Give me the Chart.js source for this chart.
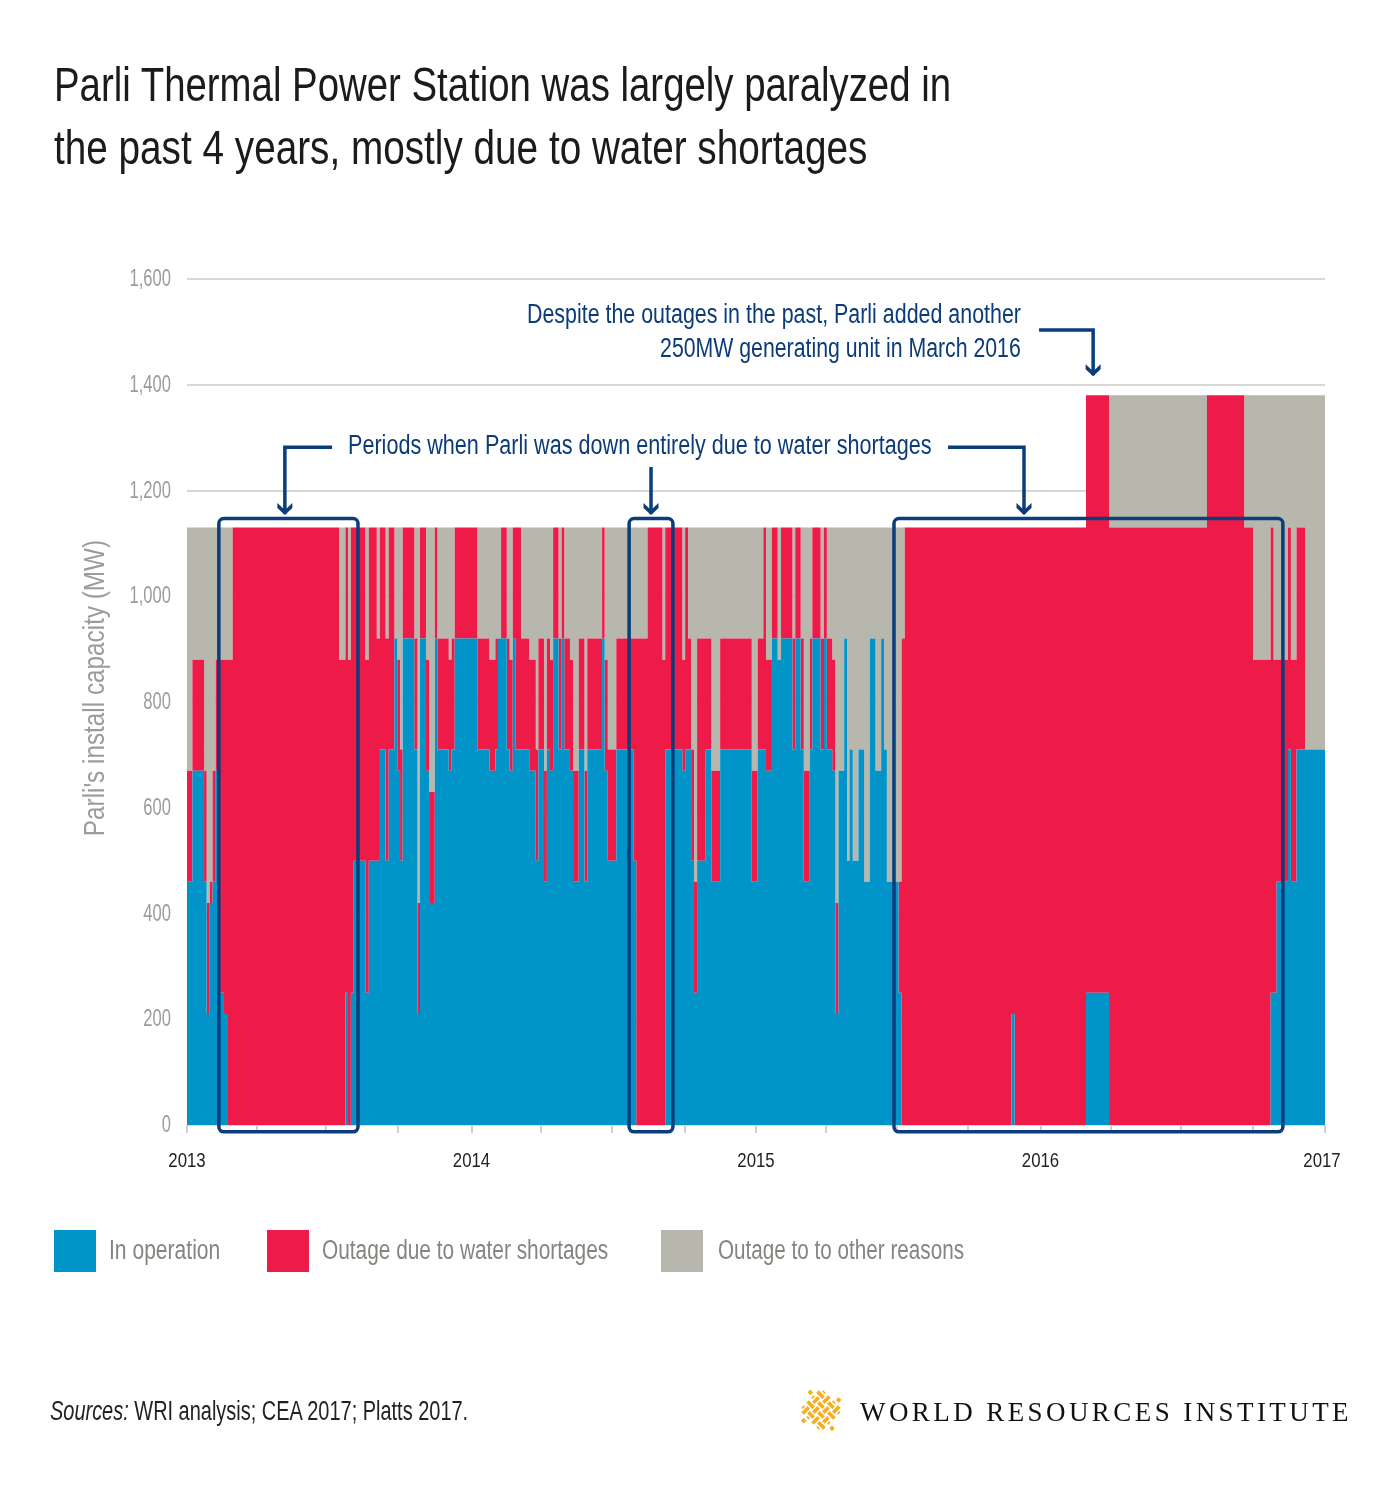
<!DOCTYPE html>
<html>
<head>
<meta charset="utf-8">
<script src="https://cdn.jsdelivr.net/npm/chart.js@4"></script>
<style>
  html, body { margin: 0; background: #fff; }
  #page { position: relative; width: 1400px; height: 1489px; overflow: hidden; font-family: "Liberation Sans", sans-serif; }
  canvas { position: absolute; left: 0; top: 0; }
  .txt { position: absolute; white-space: nowrap; line-height: 1; transform-origin: left center; }
  .title { left: 54px; font-size: 49px; color: #1b1b1b; }
  .note { font-size: 27px; color: #0b3b78; }
  .right { transform-origin: right center; }
  .legend { top: 1237px; font-size: 27px; color: #858580; }
  .swatch { position: absolute; top: 1230px; width: 42px; height: 42px; }
  .wri { left: 860px; top: 1397px; font: 27px "Liberation Serif", serif; letter-spacing: 3.42px; color: #111; }
</style>
</head>
<body>
<div id="page">
  <canvas id="chart" width="1400" height="1489"></canvas>
  <div class="txt title" style="top:60px;transform:scaleX(.783)">Parli Thermal Power Station was largely paralyzed in</div>
  <div class="txt title" style="top:123px;transform:scaleX(.79)">the past 4 years, mostly due to water shortages</div>
  <div class="txt note right" style="right:379px;top:301px;transform:scaleX(.793)">Despite the outages in the past, Parli added another</div>
  <div class="txt note right" style="right:379px;top:335px;transform:scaleX(.788)">250MW generating unit in March 2016</div>
  <div class="txt note" style="left:348px;top:432px;transform:scaleX(.8)">Periods when Parli was down entirely due to water shortages</div>
  <div class="swatch" style="left:54px;background:#0094c9"></div>
  <div class="txt legend" style="left:109px;transform:scaleX(.78)">In operation</div>
  <div class="swatch" style="left:267px;background:#ee1a47"></div>
  <div class="txt legend" style="left:322px;transform:scaleX(.772)">Outage due to water shortages</div>
  <div class="swatch" style="left:661px;background:#b8b7ae"></div>
  <div class="txt legend" style="left:718px;transform:scaleX(.766)">Outage to to other reasons</div>
  <div class="txt" style="left:50px;top:1398px;font-size:27px;color:#222;transform:scaleX(.739)"><i>Sources:</i> WRI analysis; CEA 2017; Platts 2017.</div>
  <svg id="logo" style="position:absolute;left:797px;top:1386px" width="48" height="48" viewBox="-24 -24 48 48"></svg>
  <div class="txt wri">WORLD RESOURCES INSTITUTE</div>
</div>
<script>
// Time is in hundredths of a year since the start of 2013 (0 to 400)
const runStart = [
  0, 1.9, 6, 6.9, 8, 9, 10.1, 11, 13, 14.1, 16.05, 53.5, 55.7, 56.6, 57.6, 58.6, 62.7, 63.9, 66.7, 67.8,
  69.8, 70.9, 72.9, 73.9, 74.9, 75.8, 79.9, 81, 81.9, 84, 85.1, 87.1, 88, 92, 93, 94.1, 102.05, 106.3, 108.4, 109.3,
  110.4, 112.4, 113.4, 114.5, 115.4, 117.4, 120.3, 122.6, 123.5, 125.5, 126.5, 127.6, 128.7, 130.6, 131.7, 132.6, 134.6, 135.7, 137.7, 139.7,
  140.7, 145.9, 146.8, 147.9, 150.9, 156.9, 157.9, 161.9, 167.1, 168.1, 174.1, 175.1, 176.1, 177.2, 178.2, 179.3, 182.3, 184.3, 187.4, 198.5,
  200.6, 202.6, 203.5, 205.6, 207.6, 208.8, 212.8, 213.8, 215.7, 216.8, 218.9, 219.8, 222.7, 223.9, 224.9, 226.8, 227.9, 229, 231, 232,
  232.9, 234, 236, 238, 240, 242, 244, 245, 246, 250.1, 251.2, 252.3, 289.8, 290.9, 316, 324.1, 358.5, 371.6, 374.7, 380.9,
  381.9, 383, 387, 388, 390, 393
];
// MW running: top of the blue band
const operatingMw = [
  460, 670, 460, 210, 420, 460, 670, 250, 210, 0, 0, 0, 250, 0, 250, 500, 250, 500, 500, 710,
  500, 710, 920, 670, 500, 920, 710, 210, 920, 670, 420, 920, 710, 670, 710, 920, 710, 670, 710, 920,
  920, 710, 670, 920, 710, 710, 670, 500, 710, 460, 710, 670, 920, 710, 920, 710, 670, 460, 710, 460,
  710, 920, 670, 500, 710, 500, 0, 0, 0, 710, 670, 710, 710, 500, 250, 500, 710, 460, 710, 460,
  710, 710, 670, 920, 880, 920, 710, 920, 710, 460, 710, 920, 710, 920, 710, 670, 210, 670, 920, 500,
  710, 500, 710, 460, 920, 670, 920, 710, 460, 250, 0, 0, 210, 0, 250, 0, 0, 0, 0, 250,
  250, 460, 710, 460, 710, 710
];
// MW running plus MW lost to water: top of the red band
const waterTopMw = [
  670, 880, 670, 420, 460, 670, 880, 880, 880, 880, 1130, 880, 1130, 880, 1130, 1130, 880, 1130, 920, 1130,
  920, 1130, 920, 880, 710, 1130, 920, 420, 1130, 880, 630, 1130, 920, 880, 920, 1130, 920, 880, 920, 920,
  1130, 920, 880, 1130, 1130, 920, 880, 710, 920, 670, 920, 880, 1130, 920, 1130, 920, 880, 670, 920, 670,
  920, 1130, 880, 710, 920, 920, 920, 1130, 880, 1130, 880, 1130, 920, 710, 460, 920, 920, 670, 920, 670,
  920, 1130, 880, 1130, 880, 1130, 920, 1130, 920, 670, 920, 1130, 920, 1130, 920, 880, 420, 670, 920, 500,
  710, 500, 710, 460, 920, 670, 920, 710, 460, 460, 920, 1130, 1130, 1130, 1380, 1130, 1380, 1130, 880, 1130,
  880, 880, 1130, 880, 1130, 710
];
// Installed MW: top of the grey band
const capacityMw = runStart.map((_, i) => i < 114 ? 1130 : 1380);

const yTicks = [0, 200, 400, 600, 800, 1000, 1200, 1400, 1600];
const xTicks = [0, 24.6, 49, 74.2, 100, 124.5, 149.5, 175, 200, 224.5, 249.5, 274.5, 300, 324.7, 349.3, 374.6, 400];
const yearTicks = { 0: '2013', 100: '2014', 200: '2015', 300: '2016', 400: '2017' };
const endX = 400;

function steps(values) {
  const pts = runStart.map((x, i) => ({ x, y: values[i] }));
  pts.push({ x: endX, y: values[values.length - 1] });
  return pts;
}

const NAVY = '#0a3d7a';
const FONT = '"Liberation Sans", sans-serif';
// Boxes and leader lines, in chart units
const boxes = [[11.2, 60.1], [155.4, 170.8], [248.5, 385.2]];
const boxTop = 1147, boxBottom = -13;
const leaders = [
  [[299.5, 1503.5], [318.5, 1503.5], [318.5, 1418]],
  [[51, 1282], [34.4, 1282], [34.4, 1155.6]],
  [[163.1, 1244.5], [163.1, 1155.6]],
  [[267.5, 1282], [294.2, 1282], [294.2, 1155.6]]
];

// No condensed font is installed, so axis text is squeezed horizontally
function squeezed(ctx, text, x, y, sx, align, angle) {
  ctx.save();
  ctx.translate(x, y);
  if (angle) ctx.rotate(angle);
  ctx.scale(sx, 1);
  ctx.textAlign = align;
  ctx.textBaseline = 'middle';
  ctx.fillText(text, 0, 0);
  ctx.restore();
}

const axisTextPlugin = {
  id: 'axisText',
  afterDraw(chart) {
    const { ctx, scales: { x, y } } = chart;
    ctx.save();
    ctx.fillStyle = '#9c9c98';
    ctx.font = '24px ' + FONT;
    yTicks.forEach(v => squeezed(ctx, v.toLocaleString('en-US'), 171, y.getPixelForValue(v) + 0.5, 0.69, 'right'));
    ctx.font = '30px ' + FONT;
    squeezed(ctx, "Parli's install capacity (MW)", 96, 688, 0.81, 'center', -Math.PI / 2);
    ctx.fillStyle = '#222';
    ctx.font = '21px ' + FONT;
    Object.keys(yearTicks).forEach(v => {
      squeezed(ctx, yearTicks[v], Math.min(x.getPixelForValue(+v), 1322), 1161, 0.8, 'center');
    });
    ctx.restore();
  }
};

const calloutPlugin = {
  id: 'callouts',
  afterDraw(chart) {
    const { ctx, scales: { x, y } } = chart;
    ctx.save();
    ctx.strokeStyle = NAVY;
    ctx.fillStyle = NAVY;
    ctx.lineWidth = 3.5;
    boxes.forEach(([a, b]) => {
      ctx.beginPath();
      ctx.roundRect(x.getPixelForValue(a), y.getPixelForValue(boxTop),
        x.getPixelForValue(b) - x.getPixelForValue(a), y.getPixelForValue(boxBottom) - y.getPixelForValue(boxTop), 5);
      ctx.stroke();
    });
    leaders.forEach(path => {
      ctx.beginPath();
      path.forEach(([a, b], i) => {
        const px = x.getPixelForValue(a), py = y.getPixelForValue(b);
        if (i) ctx.lineTo(px, py); else ctx.moveTo(px, py);
      });
      ctx.stroke();
      // chevron head
      const [a, b] = path[path.length - 1];
      const px = x.getPixelForValue(a), py = y.getPixelForValue(b);
      ctx.beginPath();
      ctx.moveTo(px, py + 1);
      ctx.lineTo(px - 7.5, py - 6);
      ctx.lineTo(px - 7.5, py - 11);
      ctx.lineTo(px, py - 4);
      ctx.lineTo(px + 7.5, py - 11);
      ctx.lineTo(px + 7.5, py - 6);
      ctx.closePath();
      ctx.fill();
    });
    ctx.restore();
  }
};

function band(label, values, color, fill) {
  return {
    label, data: steps(values), stepped: true, fill,
    backgroundColor: color, borderColor: color, borderWidth: 0, pointRadius: 0
  };
}

new Chart(document.getElementById('chart'), {
  type: 'line',
  data: {
    datasets: [
      band('In operation', operatingMw, '#0094c9', 'origin'),
      band('Outage due to water shortages', waterTopMw, '#ee1a47', '-1'),
      band('Outage to to other reasons', capacityMw, '#b8b7ae', '-1')
    ]
  },
  plugins: [axisTextPlugin, calloutPlugin],
  options: {
    responsive: false,
    animation: false,
    layout: { padding: { left: 78, top: 279, right: 75, bottom: 0 } },
    plugins: { legend: { display: false }, tooltip: { enabled: false } },
    scales: {
      x: {
        type: 'linear', min: 0, max: endX,
        afterFit(s) { s.height = 364; },
        afterBuildTicks(s) { s.ticks = xTicks.map(value => ({ value })); },
        border: { display: false },
        grid: { drawOnChartArea: false, color: '#cfcfcb', lineWidth: 2, tickLength: 8 },
        ticks: { display: false, autoSkip: false, maxRotation: 0 }
      },
      y: {
        min: 0, max: 1600,
        afterFit(s) { s.width = 109; },
        afterBuildTicks(s) { s.ticks = yTicks.map(value => ({ value })); },
        border: { display: false },
        grid: { color: '#d8d8d4', lineWidth: 2, drawTicks: false },
        ticks: { display: false }
      }
    }
  }
});

// WRI mark: four strands each way, woven over and under
(function drawLogo() {
  const offs = [-10.5, -3.5, 3.5, 10.5];
  const end = 15.5, gap = 3.3;
  let d = '';
  offs.forEach((o, j) => {
    [0, 1].forEach(dir => {
      let from = -end;
      offs.forEach((c, i) => {
        if ((i + j + dir) % 2) {
          d += dir ? `M${o} ${from}V${c - gap}` : `M${from} ${o}H${c - gap}`;
          from = c + gap;
        }
      });
      d += dir ? `M${o} ${from}V${end}` : `M${from} ${o}H${end}`;
    });
  });
  const dots = [[-10.7, -17.7], [-17.3, 10.7], [11, 18.3], [17.7, -10]];
  const dotMarks = dots.map(([x, y]) =>
    `<rect x="${x - 2}" y="${y - 2}" width="4" height="4" fill="#f6ae1c" transform="rotate(45 ${x} ${y})"/>`).join('');
  document.getElementById('logo').innerHTML =
    `<g transform="rotate(45)"><path d="${d}" fill="none" stroke="#f6ae1c" stroke-width="3.6"/></g>` + dotMarks;
})();
</script>
</body>
</html>
